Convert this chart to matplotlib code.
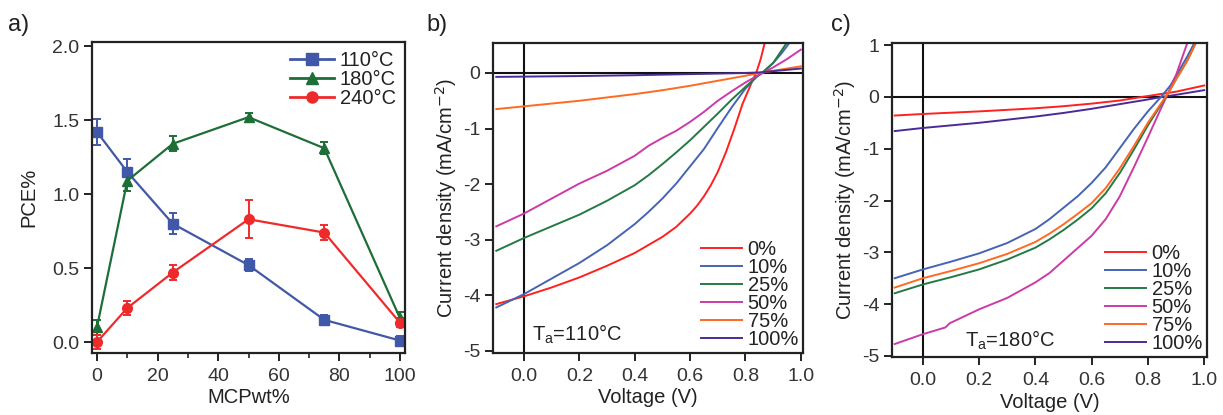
import matplotlib
matplotlib.use("Agg")
import matplotlib.pyplot as plt
from matplotlib.ticker import MultipleLocator, FormatStrFormatter
from matplotlib.lines import Line2D

plt.rcParams['font.family'] = ['Liberation Sans', 'DejaVu Sans']
plt.rcParams['axes.unicode_minus'] = False

# ---------------- Panel a data ----------------
mcp_wt = [0, 10, 25, 50, 75, 100]
pce_110 = [1.42, 1.15, 0.80, 0.52, 0.15, 0.01]
err_110 = [0.09, 0.09, 0.07, 0.04, 0.03, 0.03]
pce_180 = [0.10, 1.09, 1.34, 1.52, 1.31, 0.16]
err_180 = [0.05, 0.07, 0.05, 0.03, 0.04, 0.04]
pce_240 = [0.00, 0.23, 0.47, 0.83, 0.74, 0.13]
err_240 = [0.05, 0.05, 0.05, 0.13, 0.05, 0.03]
legend_a = ['110°C', '180°C', '240°C']

# ---------------- Panel b data (Ta = 110 °C) ----------------
b_V_0 = [-0.1, 0, 0.1, 0.2, 0.3, 0.4, 0.5, 0.55, 0.6, 0.625, 0.65, 0.675, 0.7, 0.73, 0.76, 0.79, 0.82, 0.84, 0.855, 0.87]
b_J_0 = [-4.16, -4.02, -3.86, -3.68, -3.47, -3.24, -2.95, -2.77, -2.53, -2.39, -2.22, -2.02, -1.78, -1.42, -1.0, -0.55, -0.2, 0.02, 0.25, 0.55]
b_V_10 = [-0.1, 0, 0.1, 0.2, 0.3, 0.4, 0.45, 0.5, 0.55, 0.6, 0.65, 0.7, 0.75, 0.8, 0.84, 0.86, 0.9, 0.93, 0.96]
b_J_10 = [-4.22, -3.98, -3.70, -3.42, -3.10, -2.72, -2.50, -2.26, -1.99, -1.68, -1.37, -0.99, -0.62, -0.28, -0.07, 0.0, 0.18, 0.35, 0.55]
b_V_25 = [-0.1, 0, 0.1, 0.2, 0.3, 0.4, 0.45, 0.5, 0.55, 0.6, 0.65, 0.7, 0.75, 0.8, 0.84, 0.86, 0.9, 0.95]
b_J_25 = [-3.20, -2.97, -2.76, -2.55, -2.30, -2.02, -1.84, -1.64, -1.43, -1.21, -0.97, -0.73, -0.48, -0.25, -0.07, 0.0, 0.18, 0.55]
b_V_50 = [-0.1, 0, 0.1, 0.2, 0.3, 0.4, 0.45, 0.5, 0.55, 0.6, 0.65, 0.7, 0.75, 0.8, 0.85, 0.87, 0.9, 0.95, 1.0]
b_J_50 = [-2.76, -2.53, -2.26, -1.99, -1.76, -1.49, -1.31, -1.17, -1.04, -0.88, -0.70, -0.50, -0.33, -0.17, -0.03, 0.02, 0.10, 0.25, 0.42]
b_V_75 = [-0.1, 0, 0.1, 0.2, 0.3, 0.4, 0.5, 0.6, 0.7, 0.8, 0.85, 0.9, 1.0]
b_J_75 = [-0.65, -0.60, -0.55, -0.50, -0.44, -0.38, -0.31, -0.23, -0.14, -0.05, 0.0, 0.04, 0.12]
b_V_100 = [-0.1, 0, 0.2, 0.4, 0.6, 0.8, 0.85, 1.0]
b_J_100 = [-0.07, -0.065, -0.055, -0.04, -0.02, 0.0, 0.01, 0.08]

# ---------------- Panel c data (Ta = 180 °C) ----------------
c_V_0 = [-0.1, 0, 0.2, 0.4, 0.5, 0.6, 0.7, 0.78, 0.9, 1.0]
c_J_0 = [-0.36, -0.33, -0.28, -0.22, -0.18, -0.13, -0.07, 0.0, 0.10, 0.22]
c_V_10 = [-0.1, 0, 0.1, 0.2, 0.3, 0.4, 0.45, 0.5, 0.55, 0.6, 0.65, 0.7, 0.75, 0.8, 0.85, 0.88, 0.91, 0.94, 0.965]
c_J_10 = [-3.50, -3.33, -3.18, -3.02, -2.82, -2.55, -2.36, -2.14, -1.92, -1.66, -1.36, -0.99, -0.62, -0.28, 0.02, 0.22, 0.50, 0.78, 1.04]
c_V_25 = [-0.1, 0, 0.1, 0.2, 0.3, 0.4, 0.45, 0.5, 0.55, 0.6, 0.65, 0.7, 0.75, 0.8, 0.85, 0.875, 0.9, 0.94, 0.97]
c_J_25 = [-3.79, -3.62, -3.48, -3.33, -3.14, -2.91, -2.75, -2.57, -2.37, -2.15, -1.86, -1.47, -1.02, -0.55, -0.12, 0.10, 0.34, 0.70, 1.04]
c_V_50 = [-0.1, 0, 0.08, 0.095, 0.2, 0.3, 0.4, 0.45, 0.5, 0.55, 0.6, 0.65, 0.7, 0.75, 0.8, 0.84, 0.87, 0.9, 0.94]
c_J_50 = [-4.77, -4.58, -4.45, -4.37, -4.10, -3.88, -3.58, -3.40, -3.16, -2.92, -2.68, -2.36, -1.92, -1.36, -0.78, -0.30, 0.05, 0.42, 1.04]
c_V_75 = [-0.1, 0, 0.1, 0.2, 0.3, 0.4, 0.45, 0.5, 0.55, 0.6, 0.65, 0.7, 0.75, 0.8, 0.85, 0.875, 0.9, 0.94, 0.97]
c_J_75 = [-3.68, -3.50, -3.36, -3.21, -3.03, -2.80, -2.64, -2.46, -2.26, -2.05, -1.76, -1.38, -0.95, -0.50, -0.10, 0.10, 0.34, 0.70, 1.04]
c_V_100 = [-0.1, 0, 0.2, 0.4, 0.5, 0.6, 0.7, 0.8, 0.85, 0.9, 1.0]
c_J_100 = [-0.66, -0.60, -0.50, -0.38, -0.31, -0.23, -0.14, -0.05, 0.0, 0.04, 0.13]

labels_jv = ['0%', '10%', '25%', '50%', '75%', '100%']
colors_jv = ['#ff2020', '#4664b4', '#237a45', '#cc3aa8', '#ff6a22', '#4a2a96']
col_a = ['#4158a8', '#1e6e38', '#ee2b2b']

TXT = '#222222'
TICK_FS = 14
LAB_FS = 14.5
LEG_FS = 14.5
fig = plt.figure(figsize=(12.23, 4.15), dpi=100)

def style_axes(ax):
    for s in ax.spines.values():
        s.set_linewidth(1.6)
        s.set_color('#222222')
    ax.tick_params(direction='out', length=6, width=1.4, labelsize=TICK_FS,
                   colors='#222222', labelcolor='#333333', pad=3)
    ax.tick_params(axis='x', pad=5)
    ax.tick_params(which='minor', direction='out', length=3.5, width=1.2, colors='#222222')

# ---- a ----
axa = fig.add_axes([0.0752, 0.1494, 0.256, 0.749])
mk = ['s', '^', 'o']
ys = [pce_110, pce_180, pce_240]
es = [err_110, err_180, err_240]
handles_a = []
for y, e, c, m, lab in zip(ys, es, col_a, mk, legend_a):
    axa.errorbar(mcp_wt, y, yerr=e, color=c, marker=m, markersize=7, lw=1.6,
                 capsize=3, elinewidth=1.4, capthick=1.4)
    handles_a.append(Line2D([], [], color=c, marker=m, markersize=8, lw=2.0, label=lab))
axa.set_xlim(-1.65, 101.65)
axa.set_ylim(-0.074, 2.027)
axa.xaxis.set_major_locator(MultipleLocator(20))
axa.xaxis.set_minor_locator(MultipleLocator(10))
axa.yaxis.set_major_locator(MultipleLocator(0.5))
axa.yaxis.set_major_formatter(FormatStrFormatter('%.1f'))
style_axes(axa)
axa.set_xlabel('MCPwt%', fontsize=LAB_FS, color=TXT, labelpad=2)
axa.set_ylabel('PCE%', fontsize=LAB_FS, color=TXT, labelpad=10)
leg = axa.legend(handles=handles_a, loc='upper right', frameon=False, fontsize=LEG_FS,
                 handlelength=2.2, handletextpad=0.3, labelspacing=0.0,
                 borderaxespad=0.3, borderpad=0.15)
for t in leg.get_texts():
    t.set_color(TXT)

# ---- b ----
axb = fig.add_axes([0.4031, 0.1494, 0.2535, 0.747])
b_V = [b_V_0, b_V_10, b_V_25, b_V_50, b_V_75, b_V_100]
b_J = [b_J_0, b_J_10, b_J_25, b_J_50, b_J_75, b_J_100]
axb.axhline(0, color='#111111', lw=1.5, zorder=1)
axb.axvline(0, color='#111111', lw=1.5, zorder=1)
for V, J, c, lab in zip(b_V, b_J, colors_jv, labels_jv):
    axb.plot(V, J, color=c, lw=1.4, label=lab, zorder=2)
axb.set_xlim(-0.112, 1.008)
axb.set_ylim(-5.04, 0.54)
axb.xaxis.set_major_locator(MultipleLocator(0.2))
axb.xaxis.set_major_formatter(FormatStrFormatter('%.1f'))
axb.yaxis.set_major_locator(MultipleLocator(1))
style_axes(axb)
axb.set_xlabel('Voltage (V)', fontsize=LAB_FS, color=TXT, labelpad=2)
axb.set_ylabel('Current density (mA/cm$^{-2}$)', fontsize=LAB_FS, color=TXT, labelpad=3)
legb = axb.legend(loc='lower right', frameon=False, fontsize=LEG_FS, handlelength=2.0,
                  handletextpad=0.3, labelspacing=-0.05, borderaxespad=0.1, borderpad=0.1)
for t in legb.get_texts():
    t.set_color(TXT)
axb.text(0.03, -4.7, 'T$_\\mathregular{a}$=110°C', fontsize=LEG_FS, color=TXT, va='center')

# ---- c ----
axc = fig.add_axes([0.7293, 0.1398, 0.2576, 0.7566])
c_V = [c_V_0, c_V_10, c_V_25, c_V_50, c_V_75, c_V_100]
c_J = [c_J_0, c_J_10, c_J_25, c_J_50, c_J_75, c_J_100]
axc.axhline(0, color='#111111', lw=1.5, zorder=1)
axc.axvline(0, color='#111111', lw=1.5, zorder=1)
order = [0, 5, 1, 3, 2, 4]
for i in order:
    axc.plot(c_V[i], c_J[i], color=colors_jv[i], lw=1.4, label=labels_jv[i], zorder=2)
axc.set_xlim(-0.11, 1.01)
axc.set_ylim(-5.02, 1.04)
axc.xaxis.set_major_locator(MultipleLocator(0.2))
axc.xaxis.set_major_formatter(FormatStrFormatter('%.1f'))
axc.yaxis.set_major_locator(MultipleLocator(1))
style_axes(axc)
axc.set_xlabel('Voltage (V)', fontsize=LAB_FS, color=TXT, labelpad=3)
axc.set_ylabel('Current density (mA/cm$^{-2}$)', fontsize=LAB_FS, color=TXT, labelpad=3)
h, l = axc.get_legend_handles_labels()
idx = [l.index(s) for s in labels_jv]
legc = axc.legend([h[i] for i in idx], [l[i] for i in idx], loc='lower right',
                  frameon=False, fontsize=LEG_FS, handlelength=2.0, handletextpad=0.3,
                  labelspacing=-0.05, borderaxespad=0.1, borderpad=0.1)
for t in legc.get_texts():
    t.set_color(TXT)
axc.text(0.15, -4.7, 'T$_\\mathregular{a}$=180°C', fontsize=LEG_FS, color=TXT, va='center')

fig.text(8 / 1223, 1 - 25 / 415, 'a)', fontsize=17, color=TXT, va='center')
fig.text(426 / 1223, 1 - 25 / 415, 'b)', fontsize=17, color=TXT, va='center')
fig.text(831 / 1223, 1 - 25 / 415, 'c)', fontsize=17, color=TXT, va='center')

fig.savefig('out.png', dpi=100)
